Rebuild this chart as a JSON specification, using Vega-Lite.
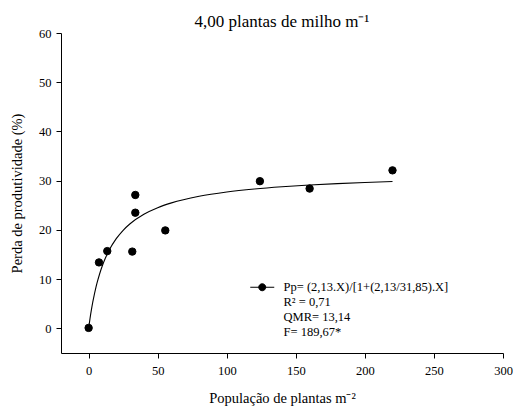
{
  "$schema": "https://vega.github.io/schema/vega-lite/v6.json",
  "width": 442,
  "height": 320,
  "autosize": {"type": "none"},
  "padding": {"left": 61, "top": 33, "right": 10, "bottom": 56},
  "background": "white",
  "title": {
    "text": "4,00 plantas de milho m⁻¹",
    "font": "Liberation Serif",
    "fontSize": 17,
    "fontWeight": "normal",
    "color": "black",
    "anchor": "middle",
    "offset": 1,
    "dy": 5
  },
  "config": {
    "font": "Liberation Serif",
    "view": {"stroke": null},
    "axis": {
      "grid": false,
      "domainColor": "black",
      "tickColor": "black",
      "tickSize": 5,
      "labelFont": "Liberation Serif",
      "labelFontSize": 12.5,
      "labelColor": "black",
      "titleFont": "Liberation Serif",
      "titleFontSize": 14.5,
      "titleFontWeight": "normal",
      "titleColor": "black"
    }
  },
  "datasets": {
    "obs": [
      {"x": 0, "y": 0.1, "s": "Pp= (2,13.X)/[1+(2,13/31,85).X]"},
      {"x": 7.5, "y": 13.4, "s": "Pp= (2,13.X)/[1+(2,13/31,85).X]"},
      {"x": 13.5, "y": 15.7, "s": "Pp= (2,13.X)/[1+(2,13/31,85).X]"},
      {"x": 31.6, "y": 15.6, "s": "Pp= (2,13.X)/[1+(2,13/31,85).X]"},
      {"x": 33.8, "y": 23.5, "s": "Pp= (2,13.X)/[1+(2,13/31,85).X]"},
      {"x": 33.8, "y": 27.1, "s": "Pp= (2,13.X)/[1+(2,13/31,85).X]"},
      {"x": 55.5, "y": 19.9, "s": "Pp= (2,13.X)/[1+(2,13/31,85).X]"},
      {"x": 124, "y": 29.9, "s": "Pp= (2,13.X)/[1+(2,13/31,85).X]"},
      {"x": 160, "y": 28.4, "s": "Pp= (2,13.X)/[1+(2,13/31,85).X]"},
      {"x": 220, "y": 32.1, "s": "Pp= (2,13.X)/[1+(2,13/31,85).X]"}
    ],
    "fit": [
      {"x": 0, "y": 0},
      {"x": 1, "y": 1.997},
      {"x": 2, "y": 3.757},
      {"x": 3, "y": 5.322},
      {"x": 4, "y": 6.722},
      {"x": 5, "y": 7.981},
      {"x": 6, "y": 9.120},
      {"x": 8, "y": 11.101},
      {"x": 10, "y": 12.764},
      {"x": 12, "y": 14.180},
      {"x": 15, "y": 15.950},
      {"x": 20, "y": 18.224},
      {"x": 25, "y": 19.930},
      {"x": 30, "y": 21.255},
      {"x": 40, "y": 23.183},
      {"x": 50, "y": 24.518},
      {"x": 60, "y": 25.496},
      {"x": 80, "y": 26.834},
      {"x": 100, "y": 27.707},
      {"x": 120, "y": 28.321},
      {"x": 140, "y": 28.777},
      {"x": 160, "y": 29.128},
      {"x": 180, "y": 29.407},
      {"x": 200, "y": 29.634},
      {"x": 220, "y": 29.823}
    ]
  },
  "encoding": {
    "x": {
      "field": "x",
      "type": "quantitative",
      "scale": {"domain": [-20, 300], "nice": false, "zero": false},
      "axis": {
        "title": "População de plantas m⁻²",
        "values": [0, 50, 100, 150, 200, 250, 300],
        "labelPadding": 6,
        "titlePadding": 15,
        "labelFlush": false
      }
    },
    "y": {
      "field": "y",
      "type": "quantitative",
      "scale": {"domain": [-5, 60], "nice": false, "zero": false},
      "axis": {
        "title": "Perda de produtividade (%)",
        "values": [0, 10, 20, 30, 40, 50, 60],
        "labelPadding": 5,
        "titlePadding": 14,
        "labelFlush": false
      }
    }
  },
  "layer": [
    {
      "data": {"name": "fit"},
      "mark": {"type": "line", "color": "black", "strokeWidth": 1.1, "interpolate": "monotone"}
    },
    {
      "data": {"name": "obs"},
      "mark": {"type": "point", "filled": true, "opacity": 1, "size": 55, "strokeWidth": 1},
      "encoding": {
        "fill": {
          "field": "s",
          "type": "nominal",
          "scale": {
            "domain": ["Pp= (2,13.X)/[1+(2,13/31,85).X]", "R² = 0,71", "QMR= 13,14", "F= 189,67*"],
            "range": ["black", "transparent", "transparent", "transparent"]
          },
          "legend": {
            "title": null,
            "orient": "none",
            "legendX": 195,
            "legendY": 248,
            "padding": 0,
            "symbolType": "M-2.4,0H2.4M-0.7,0A0.7,0.7,0,1,1,0.7,0A0.7,0.7,0,1,1,-0.7,0Z",
            "symbolSize": 100,
            "symbolStrokeWidth": 1,
            "symbolOpacity": 1,
            "labelFont": "Liberation Serif",
            "labelFontSize": 12.5,
            "labelColor": "black",
            "labelOffset": 15,
            "rowPadding": 2,
            "labelLimit": 400
          }
        },
        "stroke": {
          "field": "s",
          "type": "nominal",
          "scale": {
            "domain": ["Pp= (2,13.X)/[1+(2,13/31,85).X]", "R² = 0,71", "QMR= 13,14", "F= 189,67*"],
            "range": ["black", "transparent", "transparent", "transparent"]
          },
          "legend": {
            "title": null,
            "orient": "none",
            "legendX": 195,
            "legendY": 248,
            "padding": 0,
            "symbolType": "M-2.4,0H2.4M-0.7,0A0.7,0.7,0,1,1,0.7,0A0.7,0.7,0,1,1,-0.7,0Z",
            "symbolSize": 100,
            "symbolStrokeWidth": 1,
            "symbolOpacity": 1,
            "labelFont": "Liberation Serif",
            "labelFontSize": 12.5,
            "labelColor": "black",
            "labelOffset": 15,
            "rowPadding": 2,
            "labelLimit": 400
          }
        }
      }
    }
  ]
}
